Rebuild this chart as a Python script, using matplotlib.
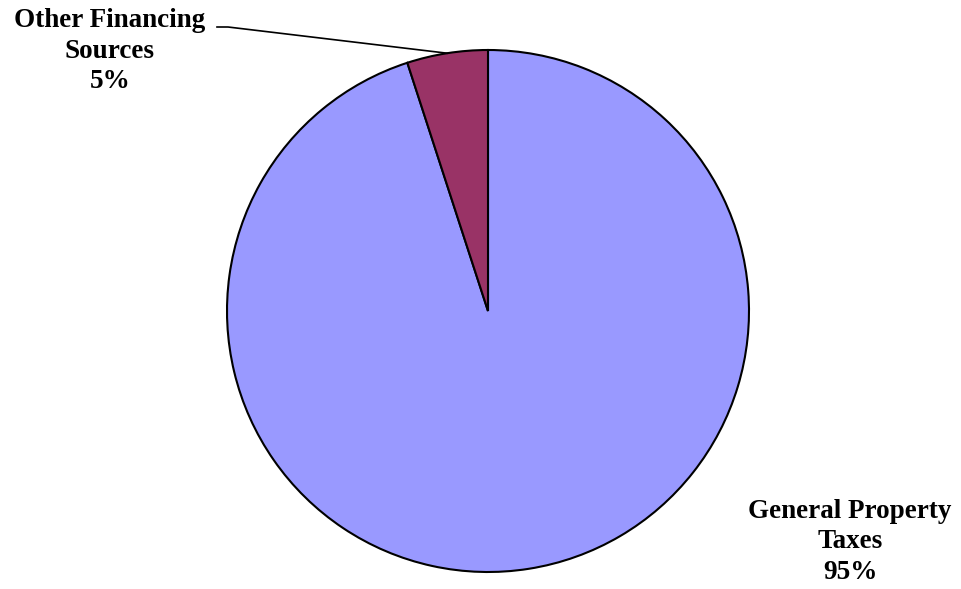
import numpy as np
import matplotlib
matplotlib.use("Agg")
import matplotlib.pyplot as plt

# ---------------------------------------------------------------------------
# Data
# ---------------------------------------------------------------------------
labels = ["General Property\nTaxes", "Other Financing\nSources"]
shares = [95, 5]
colors = ["#9999FF", "#993366"]

W, H = 962, 589
CX, CY, R = 488, H - 311, 261

fig = plt.figure(figsize=(W / 100, H / 100), dpi=100)
ax = fig.add_axes([0, 0, 1, 1])

wedges, _ = ax.pie(shares, colors=colors, startangle=90, counterclock=False,
                   center=(CX, CY), radius=R,
                   wedgeprops=dict(edgecolor="black", linewidth=1.5))
# pie resets the limits, so set them afterwards
ax.set_xlim(0, W)
ax.set_ylim(0, H)
ax.set_aspect("equal")
ax.axis("off")

font = dict(family="Liberation Serif", fontweight="bold", fontsize=19.5,
            ha="center", va="center", linespacing=1.3)

# General Property Taxes label (lower right)
ax.text(850, H - 542, f"{labels[0]}\n{shares[0]}%", **font)

# Other Financing Sources label with leader line
w = wedges[1]
mid = np.deg2rad((w.theta1 + w.theta2) / 2)
px, py = CX + R * np.cos(mid), CY + R * np.sin(mid)
ax.plot([217, 228, px], [H - 27, H - 27, py], color="black", lw=1.2)
ax.text(110, H - 51, f"{labels[1]}\n{shares[1]}%", **font)

fig.savefig("out.png", dpi=100)
